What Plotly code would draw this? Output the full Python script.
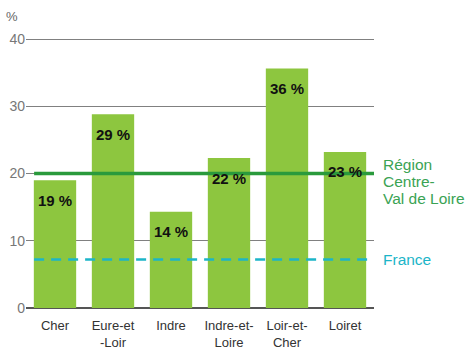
import plotly.graph_objects as go

categories = ["Cher", "Eure-et<br>-Loir", "Indre", "Indre-et-<br>Loire", "Loir-et-<br>Cher", "Loiret"]
values = [19.0, 28.8, 14.3, 22.3, 35.6, 23.2]
labels = ["19 %", "29 %", "14 %", "22 %", "36 %", "23 %"]
region_value = 20.0
france_value = 7.2
region_label = ["Région", "Centre-", "Val de Loire"]
france_label = "France"
y_ticks = [0, 10, 20, 30, 40]

FONT = "Liberation Sans, Arial, sans-serif"
xs = list(range(len(categories)))

fig = go.Figure()
fig.add_trace(go.Bar(x=xs, y=values, width=0.73, marker=dict(color="#8dc63f", line=dict(width=0)),
                     hoverinfo="skip", showlegend=False))

for x, v, t in zip(xs, values, labels):
    fig.add_annotation(x=x, y=v, text="<b>" + t + "</b>", showarrow=False, yshift=-20,
                       font=dict(family=FONT, size=15, color="#111111"))

fig.add_shape(type="line", xref="x", yref="y", x0=-0.36, x1=5.55, y0=region_value, y1=region_value,
              line=dict(color="#2a9a3c", width=3.5), layer="above")
fig.add_shape(type="line", xref="x", yref="y", x0=-0.36, x1=5.52, y0=france_value, y1=france_value,
              line=dict(color="#1cb5c8", width=2.5, dash="10px,7px"), layer="above")

for i, line in enumerate(region_label):
    fig.add_annotation(xref="paper", yref="y", x=1.02, y=region_value, xanchor="left", yanchor="middle",
                       yshift=9 - 17 * i, align="left", showarrow=False, text=line,
                       font=dict(family=FONT, size=15.5, color="#3aa354"))
fig.add_annotation(xref="paper", yref="y", x=1.02, y=france_value, xanchor="left", yanchor="middle",
                   align="left", showarrow=False, text=france_label,
                   font=dict(family=FONT, size=15.5, color="#1cb5c8"))
fig.add_annotation(xref="paper", yref="paper", x=-0.04, y=1.045, xanchor="center", yanchor="bottom",
                   showarrow=False, text="%", font=dict(family=FONT, size=13, color="#666666"))

fig.update_layout(
    width=470, height=347,
    margin=dict(l=26, r=96, t=38, b=39),
    paper_bgcolor="white", plot_bgcolor="white",
    font=dict(family=FONT, size=14, color="#666666"),
    xaxis=dict(range=[-0.5, 5.5], tickmode="array", tickvals=xs, ticktext=categories,
               showgrid=False, zeroline=False, showline=False, ticks="", automargin=False,
               ticklabelstandoff=8,
               tickfont=dict(family=FONT, size=13, color="#333333")),
    yaxis=dict(range=[0, 40.15], tickmode="array", tickvals=y_ticks, showgrid=True,
               gridcolor="#808080", gridwidth=1, zeroline=True, zerolinecolor="#555555",
               zerolinewidth=1.5, ticks="", showline=False, automargin=False,
               tickfont=dict(family=FONT, size=14, color="#777777")),
)

fig.write_html("out.html", config={"displayModeBar": False},
               post_script="document.body.style.margin='0';document.body.style.overflow='hidden';")
